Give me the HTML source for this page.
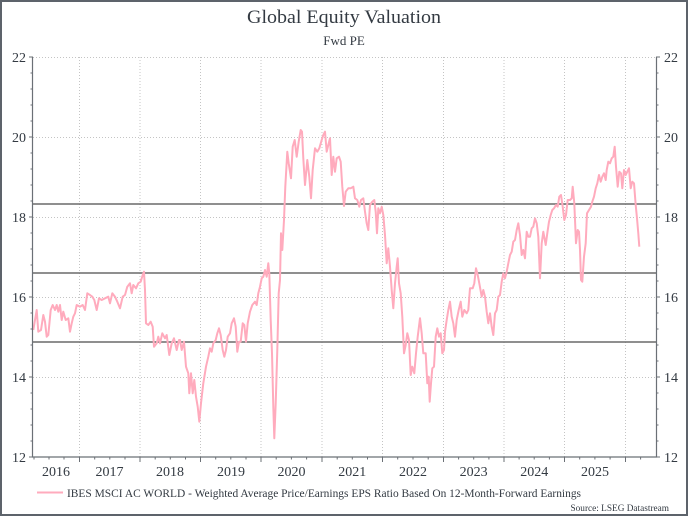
<!DOCTYPE html>
<html>
<head>
<meta charset="utf-8">
<style>
html,body{margin:0;padding:0;background:#fff;}
body{width:688px;height:516px;overflow:hidden;}
svg{display:block;}
text{font-family:"Liberation Serif",serif;fill:#333a42;}
</style>
</head>
<body>
<svg width="688" height="516" viewBox="0 0 688 516" xmlns="http://www.w3.org/2000/svg">
<rect x="0" y="0" width="688" height="516" fill="#fff"/>
<rect x="1" y="1" width="686" height="514" fill="none" stroke="#5d636b" stroke-width="2"/>

<text x="344" y="23" text-anchor="middle" font-size="19" textLength="194" lengthAdjust="spacingAndGlyphs">Global Equity Valuation</text>
<text x="344" y="45" text-anchor="middle" font-size="13">Fwd PE</text>

<!-- horizontal gridlines -->
<g stroke="#c4c4c4" stroke-width="1" stroke-dasharray="1,2">
<line x1="33" y1="57.5" x2="656" y2="57.5"/>
<line x1="33" y1="137.5" x2="656" y2="137.5"/>
<line x1="33" y1="217.5" x2="656" y2="217.5"/>
<line x1="33" y1="297.5" x2="656" y2="297.5"/>
<line x1="33" y1="377.5" x2="656" y2="377.5"/>
</g>
<!-- vertical gridlines -->
<g stroke="#c4c4c4" stroke-width="1" stroke-dasharray="1,2">
<line x1="79.5" y1="57" x2="79.5" y2="457"/>
<line x1="140" y1="57" x2="140" y2="457"/>
<line x1="200.5" y1="57" x2="200.5" y2="457"/>
<line x1="261" y1="57" x2="261" y2="457"/>
<line x1="322" y1="57" x2="322" y2="457"/>
<line x1="382.5" y1="57" x2="382.5" y2="457"/>
<line x1="443.5" y1="57" x2="443.5" y2="457"/>
<line x1="504" y1="57" x2="504" y2="457"/>
<line x1="564.5" y1="57" x2="564.5" y2="457"/>
<line x1="625.5" y1="57" x2="625.5" y2="457"/>
</g>

<!-- reference lines -->
<g stroke="#6a6a6a" stroke-width="1.4">
<line x1="33" y1="204" x2="656" y2="204"/>
<line x1="33" y1="273" x2="656" y2="273"/>
<line x1="33" y1="342" x2="656" y2="342"/>
</g>

<!-- series -->
<polyline fill="none" stroke="#ffabbd" stroke-width="2" stroke-linejoin="round" points="
33.3,330 35,320 36.7,310 38.3,331.7 41,330 43.3,315 45,321.7 46.7,336.7 48.3,335 50.7,310 52.7,305 55,310 56.7,305 58.3,311.7 60,305 61.7,320 63.3,311.7 65.7,320 68.3,318.3 70,331.7 71.7,323.3 73.3,316.7 75,313.3 76.7,305 80,306.7 82.7,305 85,310 87.3,293.3 90,295 92.3,296.7 94.3,300 96.7,310 99,298.3 101.7,300 105,298.3 108.3,296.7 110,303.3 112.3,293.3 115,296.7 117.3,301.7 120,308.3 122.7,296.7 125,295 127.3,286.7 130,283.3 131.7,293.3 133.3,285 136,288.3 138.3,283.3 140.7,281.7 142.7,275 144,271.7 145,290 146,323.3 148.3,325 150.7,321.7 152.7,326.7 154,346.7 156.7,343.3 158.3,336.7 160,343.3 162.3,333.3 165,338.3 166.7,335 169.3,355 171.7,343.3 174,338.3 176.7,350 179,340 180,340 181.7,350 184,341.7 186,366.7 188.3,373.3 189.3,393.3 191,373.3 192.7,393.3 194.3,380 196,396.7 197.7,406.7 199.3,421.7 201,403.3 203.3,383.3 206,366.7 208.3,356.7 210,348.3 211.7,351.7 213.3,343.3 215.7,340 217.3,333.3 219,328.3 220.7,335 222.7,350 224.3,356.7 226,350 227.7,336.7 230,333.3 231.7,323.3 234,318.3 235.7,326.7 237.3,351.7 239,341.7 240.7,341.7 242.7,323.3 244.3,325 246,341.7 247.7,323.3 250,311.7 252.3,305 255,301.7 256.7,305 258.3,293.3 260,286.7 261.7,278.3 263.3,276.7 265,270 266.7,276.7 268.3,263.3 269.3,273.3 270.7,320 272,353.3 273.3,406.7 274.3,438.3 275.7,403.3 277.3,350 278.7,293.3 280,280 281,233.3 282.3,250 284,220 285.3,186.7 287.3,151.7 288.7,163.3 291,178.3 292.7,146.7 294.7,140 296.7,156.7 298.7,141.7 300.7,130 302,131.7 303.3,158.3 305,185 307.3,160 309.3,176.7 311,198.3 312.7,170 315,148.3 317.3,151.7 319.3,148.3 321.7,140 323.3,135 325,131.7 326.7,151.7 328.3,145 330,138.3 331.7,175 333.3,156.7 335,171.7 336.7,158.3 339,156.7 340.7,161.7 342.3,186.7 344,206 345.7,191.7 348.3,188.3 350.7,188.3 353.3,186.7 355,198.3 357.3,200 359.3,206.7 361,200 363.3,198.3 365,211.7 366.7,223.3 368.3,230 370,205 372.3,201.7 374.3,200 375.7,211.7 377,233.3 378.3,208.3 380,213.3 381.7,206.7 383.3,215 385,235 386.7,263.3 388.3,248.3 390,266.7 391.7,290 393.3,308.3 395,283.3 396.7,266.7 397.7,258.3 399,283.3 400.7,293.3 402.3,316.7 404,353.3 405.7,345 407.3,333.3 409,340 410.7,375 412.3,366.7 414.3,373.3 416,353.3 417.7,336.7 420,318.3 421.7,333.3 423.3,353.3 425.7,353.3 427.3,383.3 428.7,376.7 429.7,401.7 431,383.3 432.3,368.3 434,366.7 435.7,336.7 437.3,328.3 439,336.7 440.7,333.3 442.3,353.3 444,350 445,331.7 446.7,320 448.3,310 450,301.7 451.7,316.7 453.3,323.3 455,336.7 456.7,320 458.7,310 460.7,301.7 462.3,316.7 464.3,310 466.7,313.3 468.3,310 470,288.3 472.7,288.3 474.3,283.3 476,268.3 477.7,275 479.3,283.3 481.7,296.7 483.3,290 485,296.7 486.7,311.7 488.3,323.3 490,313.3 491.7,326.7 493.3,335 495,313.3 496.7,310 498.3,296.7 500,295 501.7,281.7 503.3,273.3 505,278.3 506.7,271.7 508.3,263.3 510,255 511.7,251.7 513.3,241.7 515,240 516.7,230 518.3,223.3 520,235 521.7,255 523.3,250 525,258.3 526.7,231.7 528.3,236.7 530,236.7 531.7,228.3 533.3,226.7 535,218.3 536.7,223.3 538.3,236.7 540,278.3 541.7,243.3 543.3,231.7 545.7,245 547.3,233.3 549,221.7 550.7,215 552.3,210 554,208.3 556,205 557.7,206.7 559.3,196.7 561,195 562.7,206.7 564.3,220 566,215 567.7,200 570,200 571.7,198.3 572.7,186.7 574.3,203.3 576,243.3 577.7,230 579,231.7 580,250 581,280 582.3,281.7 584,256.7 585.7,243.3 587,213.3 589,210 591,206.7 592.3,201.7 594,196.7 595.7,188.3 597.3,183.3 599,175 600.7,181.7 602.3,176.7 604,173.3 605.7,180 606.7,170 608.3,161.7 610,163.3 611.7,158.3 613.3,156.7 614.7,146.7 616,166.7 617.7,186.7 619.3,171.7 621,173.3 622.3,188.3 624,170 625.7,175 627.3,171.7 629,168.3 630.7,188.3 632.3,181.7 634,183.3 635.7,205 637,218.3 638.3,233.3 639.3,246.7"/>

<!-- axes -->
<g stroke="#6b7076" stroke-width="1.2" fill="none">
<line x1="32.5" y1="57" x2="32.5" y2="457.5"/>
<line x1="656.5" y1="57" x2="656.5" y2="457.5"/>
<line x1="32" y1="457" x2="657" y2="457"/>
</g>
<!-- left/right ticks -->
<g stroke="#6b7076" stroke-width="1">
<line x1="29" y1="57" x2="33" y2="57"/><line x1="29" y1="137" x2="33" y2="137"/><line x1="29" y1="217" x2="33" y2="217"/><line x1="29" y1="297" x2="33" y2="297"/><line x1="29" y1="377" x2="33" y2="377"/><line x1="29" y1="457" x2="33" y2="457"/>
<line x1="656" y1="57" x2="660" y2="57"/><line x1="656" y1="137" x2="660" y2="137"/><line x1="656" y1="217" x2="660" y2="217"/><line x1="656" y1="297" x2="660" y2="297"/><line x1="656" y1="377" x2="660" y2="377"/><line x1="656" y1="457" x2="660" y2="457"/>
</g>
<g stroke="#6b7076" stroke-width="1">
<line x1="30.5" y1="73" x2="33" y2="73"/><line x1="30.5" y1="89" x2="33" y2="89"/><line x1="30.5" y1="105" x2="33" y2="105"/><line x1="30.5" y1="121" x2="33" y2="121"/>
<line x1="30.5" y1="153" x2="33" y2="153"/><line x1="30.5" y1="169" x2="33" y2="169"/><line x1="30.5" y1="185" x2="33" y2="185"/><line x1="30.5" y1="201" x2="33" y2="201"/>
<line x1="30.5" y1="233" x2="33" y2="233"/><line x1="30.5" y1="249" x2="33" y2="249"/><line x1="30.5" y1="265" x2="33" y2="265"/><line x1="30.5" y1="281" x2="33" y2="281"/>
<line x1="30.5" y1="313" x2="33" y2="313"/><line x1="30.5" y1="329" x2="33" y2="329"/><line x1="30.5" y1="345" x2="33" y2="345"/><line x1="30.5" y1="361" x2="33" y2="361"/>
<line x1="30.5" y1="393" x2="33" y2="393"/><line x1="30.5" y1="409" x2="33" y2="409"/><line x1="30.5" y1="425" x2="33" y2="425"/><line x1="30.5" y1="441" x2="33" y2="441"/>
<line x1="656" y1="73" x2="658.5" y2="73"/><line x1="656" y1="89" x2="658.5" y2="89"/><line x1="656" y1="105" x2="658.5" y2="105"/><line x1="656" y1="121" x2="658.5" y2="121"/>
<line x1="656" y1="153" x2="658.5" y2="153"/><line x1="656" y1="169" x2="658.5" y2="169"/><line x1="656" y1="185" x2="658.5" y2="185"/><line x1="656" y1="201" x2="658.5" y2="201"/>
<line x1="656" y1="233" x2="658.5" y2="233"/><line x1="656" y1="249" x2="658.5" y2="249"/><line x1="656" y1="265" x2="658.5" y2="265"/><line x1="656" y1="281" x2="658.5" y2="281"/>
<line x1="656" y1="313" x2="658.5" y2="313"/><line x1="656" y1="329" x2="658.5" y2="329"/><line x1="656" y1="345" x2="658.5" y2="345"/><line x1="656" y1="361" x2="658.5" y2="361"/>
<line x1="656" y1="393" x2="658.5" y2="393"/><line x1="656" y1="409" x2="658.5" y2="409"/><line x1="656" y1="425" x2="658.5" y2="425"/><line x1="656" y1="441" x2="658.5" y2="441"/>
</g>
<!-- bottom ticks -->
<g stroke="#6b7076" stroke-width="1">
<line x1="79.5" y1="457" x2="79.5" y2="462"/><line x1="140" y1="457" x2="140" y2="462"/><line x1="200.5" y1="457" x2="200.5" y2="462"/><line x1="261" y1="457" x2="261" y2="462"/><line x1="322" y1="457" x2="322" y2="462"/><line x1="382.5" y1="457" x2="382.5" y2="462"/><line x1="443.5" y1="457" x2="443.5" y2="462"/><line x1="504" y1="457" x2="504" y2="462"/><line x1="564.5" y1="457" x2="564.5" y2="462"/><line x1="625.5" y1="457" x2="625.5" y2="462"/>
<line x1="34" y1="457" x2="34" y2="459.5"/><line x1="49" y1="457" x2="49" y2="459.5"/><line x1="64" y1="457" x2="64" y2="459.5"/>
<line x1="94.7" y1="457" x2="94.7" y2="459.5"/><line x1="109.8" y1="457" x2="109.8" y2="459.5"/><line x1="125" y1="457" x2="125" y2="459.5"/>
<line x1="155.2" y1="457" x2="155.2" y2="459.5"/><line x1="170.3" y1="457" x2="170.3" y2="459.5"/><line x1="185.5" y1="457" x2="185.5" y2="459.5"/>
<line x1="215.7" y1="457" x2="215.7" y2="459.5"/><line x1="230.8" y1="457" x2="230.8" y2="459.5"/><line x1="246" y1="457" x2="246" y2="459.5"/>
<line x1="276.2" y1="457" x2="276.2" y2="459.5"/><line x1="291.4" y1="457" x2="291.4" y2="459.5"/><line x1="306.6" y1="457" x2="306.6" y2="459.5"/>
<line x1="337.2" y1="457" x2="337.2" y2="459.5"/><line x1="352.3" y1="457" x2="352.3" y2="459.5"/><line x1="367.5" y1="457" x2="367.5" y2="459.5"/>
<line x1="397.7" y1="457" x2="397.7" y2="459.5"/><line x1="413" y1="457" x2="413" y2="459.5"/><line x1="428.2" y1="457" x2="428.2" y2="459.5"/>
<line x1="458.6" y1="457" x2="458.6" y2="459.5"/><line x1="473.7" y1="457" x2="473.7" y2="459.5"/><line x1="488.9" y1="457" x2="488.9" y2="459.5"/>
<line x1="519.1" y1="457" x2="519.1" y2="459.5"/><line x1="534.2" y1="457" x2="534.2" y2="459.5"/><line x1="549.4" y1="457" x2="549.4" y2="459.5"/>
<line x1="579.7" y1="457" x2="579.7" y2="459.5"/><line x1="594.9" y1="457" x2="594.9" y2="459.5"/><line x1="610.1" y1="457" x2="610.1" y2="459.5"/>
<line x1="640.6" y1="457" x2="640.6" y2="459.5"/>
</g>

<!-- y labels -->
<g font-size="14">
<text x="26" y="62" text-anchor="end">22</text>
<text x="26" y="142" text-anchor="end">20</text>
<text x="26" y="222" text-anchor="end">18</text>
<text x="26" y="302" text-anchor="end">16</text>
<text x="26" y="382" text-anchor="end">14</text>
<text x="26" y="462" text-anchor="end">12</text>
<text x="664" y="62">22</text>
<text x="664" y="142">20</text>
<text x="664" y="222">18</text>
<text x="664" y="302">16</text>
<text x="664" y="382">14</text>
<text x="664" y="462">12</text>
</g>
<!-- x labels -->
<g font-size="14" text-anchor="middle">
<text x="56" y="476">2016</text>
<text x="109.5" y="476">2017</text>
<text x="170" y="476">2018</text>
<text x="231" y="476">2019</text>
<text x="291.5" y="476">2020</text>
<text x="352.3" y="476">2021</text>
<text x="413" y="476">2022</text>
<text x="473.6" y="476">2023</text>
<text x="534.3" y="476">2024</text>
<text x="595" y="476">2025</text>
</g>

<!-- legend -->
<line x1="37" y1="492.5" x2="63" y2="492.5" stroke="#ffabbd" stroke-width="2"/>
<text x="67" y="497" font-size="11.5" textLength="514" lengthAdjust="spacingAndGlyphs">IBES MSCI AC WORLD - Weighted Average Price/Earnings EPS Ratio Based On 12-Month-Forward Earnings</text>
<text x="570.5" y="511" font-size="9.5" textLength="98.5" lengthAdjust="spacingAndGlyphs">Source: LSEG Datastream</text>
</svg>
</body>
</html>
